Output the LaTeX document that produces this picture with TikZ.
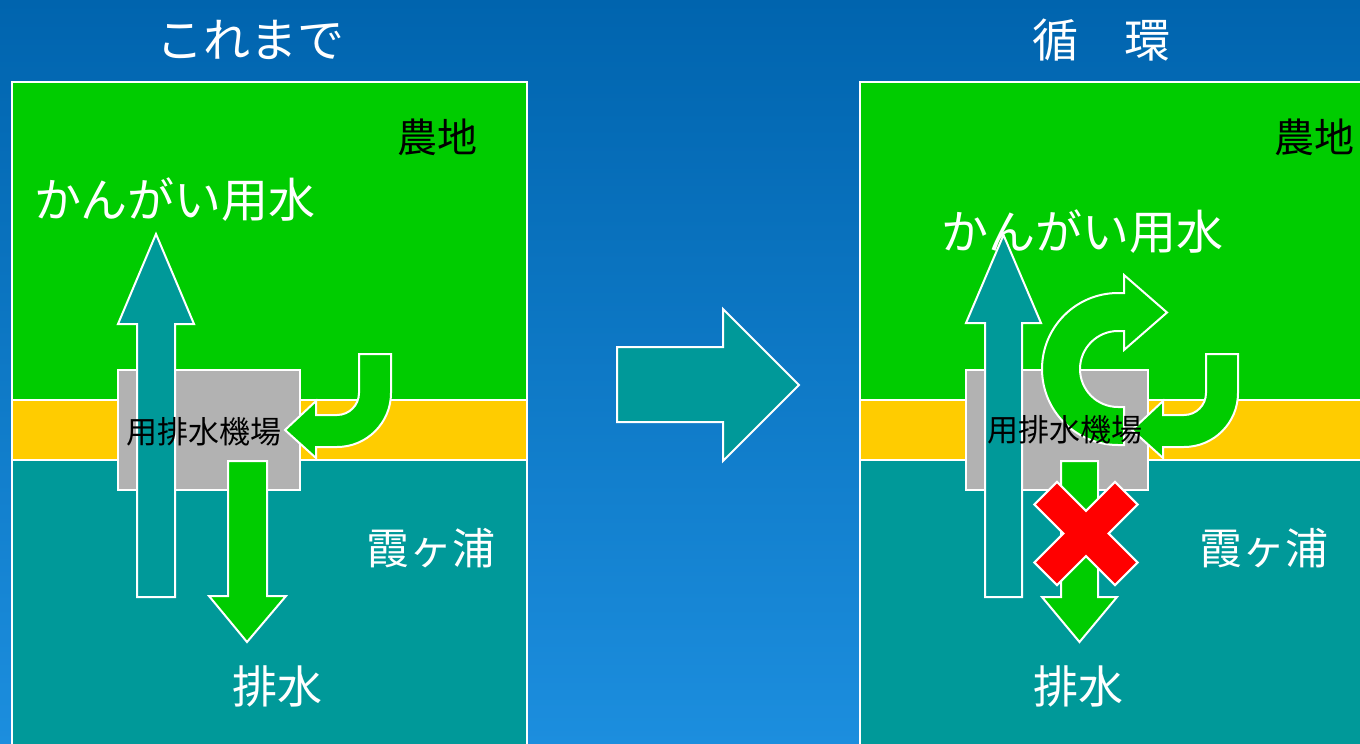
\documentclass[tikz,border=0pt]{standalone}
\usepackage{fontspec}
\newfontfamily\jp{Noto Sans CJK JP}
\definecolor{bgtop}{RGB}{0,100,174}
\definecolor{bgbot}{RGB}{28,142,222}
\definecolor{fgreen}{RGB}{0,204,0}
\definecolor{fyellow}{RGB}{255,204,0}
\definecolor{fteal}{RGB}{0,153,153}
\definecolor{fgray}{RGB}{178,178,178}
\definecolor{fred}{RGB}{255,0,0}
\tikzset{
  wb/.style={draw=white,line width=2pt,line join=miter},
  lbl/.style={inner sep=0pt,font=\jp},
}
\newcommand{\fs}[1]{\fontsize{#1}{#1}\selectfont}
\begin{document}
\begin{tikzpicture}[x=1pt,y=-1pt]
\useasboundingbox (0,0) rectangle (1360,744);
\clip (0,0) rectangle (1360,744);
\shade[top color=bgtop,bottom color=bgbot] (0,0) rectangle (1360,744);

% ---------------- left panel ----------------
\fill[fgreen,wb] (12,82) rectangle (527,400);
\fill[fyellow,wb] (12,400) rectangle (527,460);
\fill[fteal,wb] (12,460) rectangle (527,760);
\fill[fgray,wb] (118,370) rectangle (300,490);
% irrigation arrow (up)
\fill[fteal,wb] (137,597) -- (137,324) -- (118,324) -- (156,234) -- (194,324) -- (175,324) -- (175,597) -- cycle;
% J arrow
\fill[fgreen,wb] (359,354) -- (391,354) -- (391,393) arc (0:90:54) -- (316,447) -- (316,458) -- (285,430) -- (316,401) -- (316,415) -- (337,415) arc (90:0:22) -- cycle;
% drainage arrow (down)
\fill[fgreen,wb] (228,461) -- (267,461) -- (267,596) -- (286,596) -- (247,642) -- (209,596) -- (228,596) -- cycle;

\node[lbl,text=black] (lstation) at (203.5,432) {\fs{31}用排水機場};
\node[lbl,text=white] (lirr) at (175,200) {\fs{47}かんがい用水};
\node[lbl,text=black] (lfarm) at (437.5,137) {\fs{40}農地};
\node[lbl,text=white] (llake) at (431,548) {\fs{43}霞ヶ浦};
\node[lbl,text=white] (ldrain) at (277,686) {\fs{45}排水};
\node[lbl,text=white] (ltitle) at (250,40) {\fs{47}これまで};

% ---------------- middle arrow ----------------
\fill[fteal,wb] (617,347) -- (723,347) -- (723,309) -- (799,385) -- (723,461) -- (723,422) -- (617,422) -- cycle;

% ---------------- right panel ----------------
\fill[fgreen,wb] (860,82) rectangle (1380,400);
\fill[fyellow,wb] (860,400) rectangle (1380,460);
\fill[fteal,wb] (860,460) rectangle (1380,760);
\fill[fgray,wb] (966,370) rectangle (1148,490);
% irrigation arrow (up)
\fill[fteal,wb] (985,597) -- (985,323) -- (966,323) -- (1003.5,235) -- (1041,323) -- (1022,323) -- (1022,597) -- cycle;
% circular arrow
\fill[fgreen,wb] (1124,445) -- (1118,445) arc (90:270:76) -- (1124,293) -- (1124,275) -- (1167,312.5) -- (1124,350) -- (1124,331) -- (1118,331) arc (270:90:38) -- (1124,407) -- cycle;
% J arrow
\fill[fgreen,wb] (1206,354) -- (1238,354) -- (1238,393) arc (0:90:54) -- (1163,447) -- (1163,458) -- (1132,430) -- (1163,401) -- (1163,415) -- (1184,415) arc (90:0:22) -- cycle;
\node[lbl,text=black] (rstation) at (1065,430) {\fs{31}用排水機場};
% drainage arrow (down)
\fill[fgreen,wb] (1061,461) -- (1098,461) -- (1098,597) -- (1117,597) -- (1079.5,642) -- (1042,597) -- (1061,597) -- cycle;
% red cross
\begin{scope}[shift={(1086,533.5)},rotate=45]
\fill[fred,wb] (16,-57) -- (16,-16) -- (57,-16) -- (57,16) -- (16,16) -- (16,57) -- (-16,57) -- (-16,16) -- (-57,16) -- (-57,-16) -- (-16,-16) -- (-16,-57) -- cycle;
\end{scope}

\node[lbl,text=white] (rirr) at (1082,232) {\fs{47}かんがい用水};
\node[lbl,text=black] (rfarm) at (1314,137) {\fs{40}農地};
\node[lbl,text=white] (rlake) at (1264,548) {\fs{43}霞ヶ浦};
\node[lbl,text=white] (rdrain) at (1078,686) {\fs{45}排水};
\node[lbl,text=white] (rtitle) at (1101,40) {\fs{46}循　環};
\end{tikzpicture}
\end{document}
